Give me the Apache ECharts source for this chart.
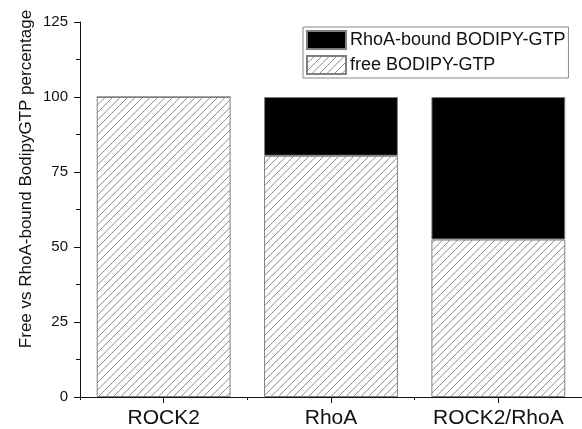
<!DOCTYPE html>
<html>
<head>
<meta charset="utf-8">
<script src="https://cdn.jsdelivr.net/npm/echarts@6/dist/echarts.min.js"></script>
<style>
  html, body { margin: 0; padding: 0; background: #fff; }
  #chart { width: 582px; height: 429px; }
</style>
</head>
<body>
<div id="chart"></div>
<script>
// Samples and the share of BODIPY-GTP in each state (percent)
var categories = ['ROCK2', 'RhoA', 'ROCK2/RhoA'];
var freeValues = [100, 80.4, 52.5];
var boundValues = [0, 19.6, 47.5];
var yTicks = [0, 25, 50, 75, 100, 125];

// Diagonal hatch fill used for the free fraction
function makeHatch() {
  var s = 15;
  var c = document.createElement('canvas');
  c.width = s; c.height = s;
  var g = c.getContext('2d');
  g.fillStyle = '#ffffff';
  g.fillRect(0, 0, s, s);
  g.strokeStyle = '#8a8a8a';
  g.lineWidth = 1;
  [-15, -7.5, 0, 7.5, 15].forEach(function (k) {
    g.beginPath();
    g.moveTo(k, s);
    g.lineTo(k + s, 0);
    g.stroke();
  });
  return c;
}
var hatch = { image: makeHatch(), repeat: 'repeat' };

var font = '"Liberation Sans", Arial, sans-serif';
var chart = echarts.init(document.getElementById('chart'), null, { renderer: 'canvas' });

chart.setOption({
  backgroundColor: '#ffffff',
  animation: false,
  grid: { left: 80, top: 22, width: 505, height: 375, containLabel: false },
  legend: {
    orient: 'vertical',
    left: 303,
    top: 27,
    padding: [3, 3, 3, 3],
    itemWidth: 39,
    itemHeight: 18,
    itemGap: 5,
    icon: 'rect',
    borderColor: '#888',
    borderWidth: 1,
    data: ['RhoA-bound BODIPY-GTP', 'free BODIPY-GTP'],
    textStyle: { fontFamily: font, fontSize: 18, color: '#111', padding: [0, 0, 0, -1] }
  },
  xAxis: [{
    type: 'category',
    data: categories,
    axisLine: { lineStyle: { color: '#111', width: 1 } },
    axisTick: { show: true, alignWithLabel: true, length: 6, lineStyle: { color: '#111' } },
    axisLabel: { interval: 0, fontFamily: font, fontSize: 21, color: '#111', margin: 11 }
  }, {
    // boundary marks between categories
    type: 'value',
    position: 'bottom',
    min: 0, max: 3, interval: 1,
    axisLine: { show: false },
    axisTick: { show: true, length: 3, lineStyle: { color: '#111' } },
    axisLabel: { show: false },
    splitLine: { show: false }
  }],
  yAxis: {
    type: 'value',
    min: yTicks[0],
    max: yTicks[yTicks.length - 1],
    interval: 25,
    axisLine: { show: true, lineStyle: { color: '#111', width: 1 } },
    axisTick: { show: true, length: 6, lineStyle: { color: '#111' } },
    minorTick: { show: true, splitNumber: 2, length: 4, lineStyle: { color: '#111' } },
    splitLine: { show: false },
    axisLabel: { fontFamily: font, fontSize: 15, color: '#111', margin: 12 }
  },
  graphic: [{
    type: 'text',
    x: 26,
    y: 179,
    rotation: Math.PI / 2,
    style: {
      text: 'Free vs RhoA-bound BodipyGTP percentage',
      font: '17px ' + font,
      fill: '#111',
      align: 'center',
      verticalAlign: 'middle'
    }
  }],
  series: [{
    name: 'free BODIPY-GTP',
    type: 'bar',
    stack: 'total',
    barWidth: '80%',
    data: freeValues,
    itemStyle: { color: hatch, borderColor: '#808080', borderWidth: 1 }
  }, {
    name: 'RhoA-bound BODIPY-GTP',
    type: 'bar',
    stack: 'total',
    barWidth: '80%',
    data: boundValues,
    itemStyle: { color: '#000000', borderColor: '#808080', borderWidth: 1 }
  }]
});
</script>
</body>
</html>
